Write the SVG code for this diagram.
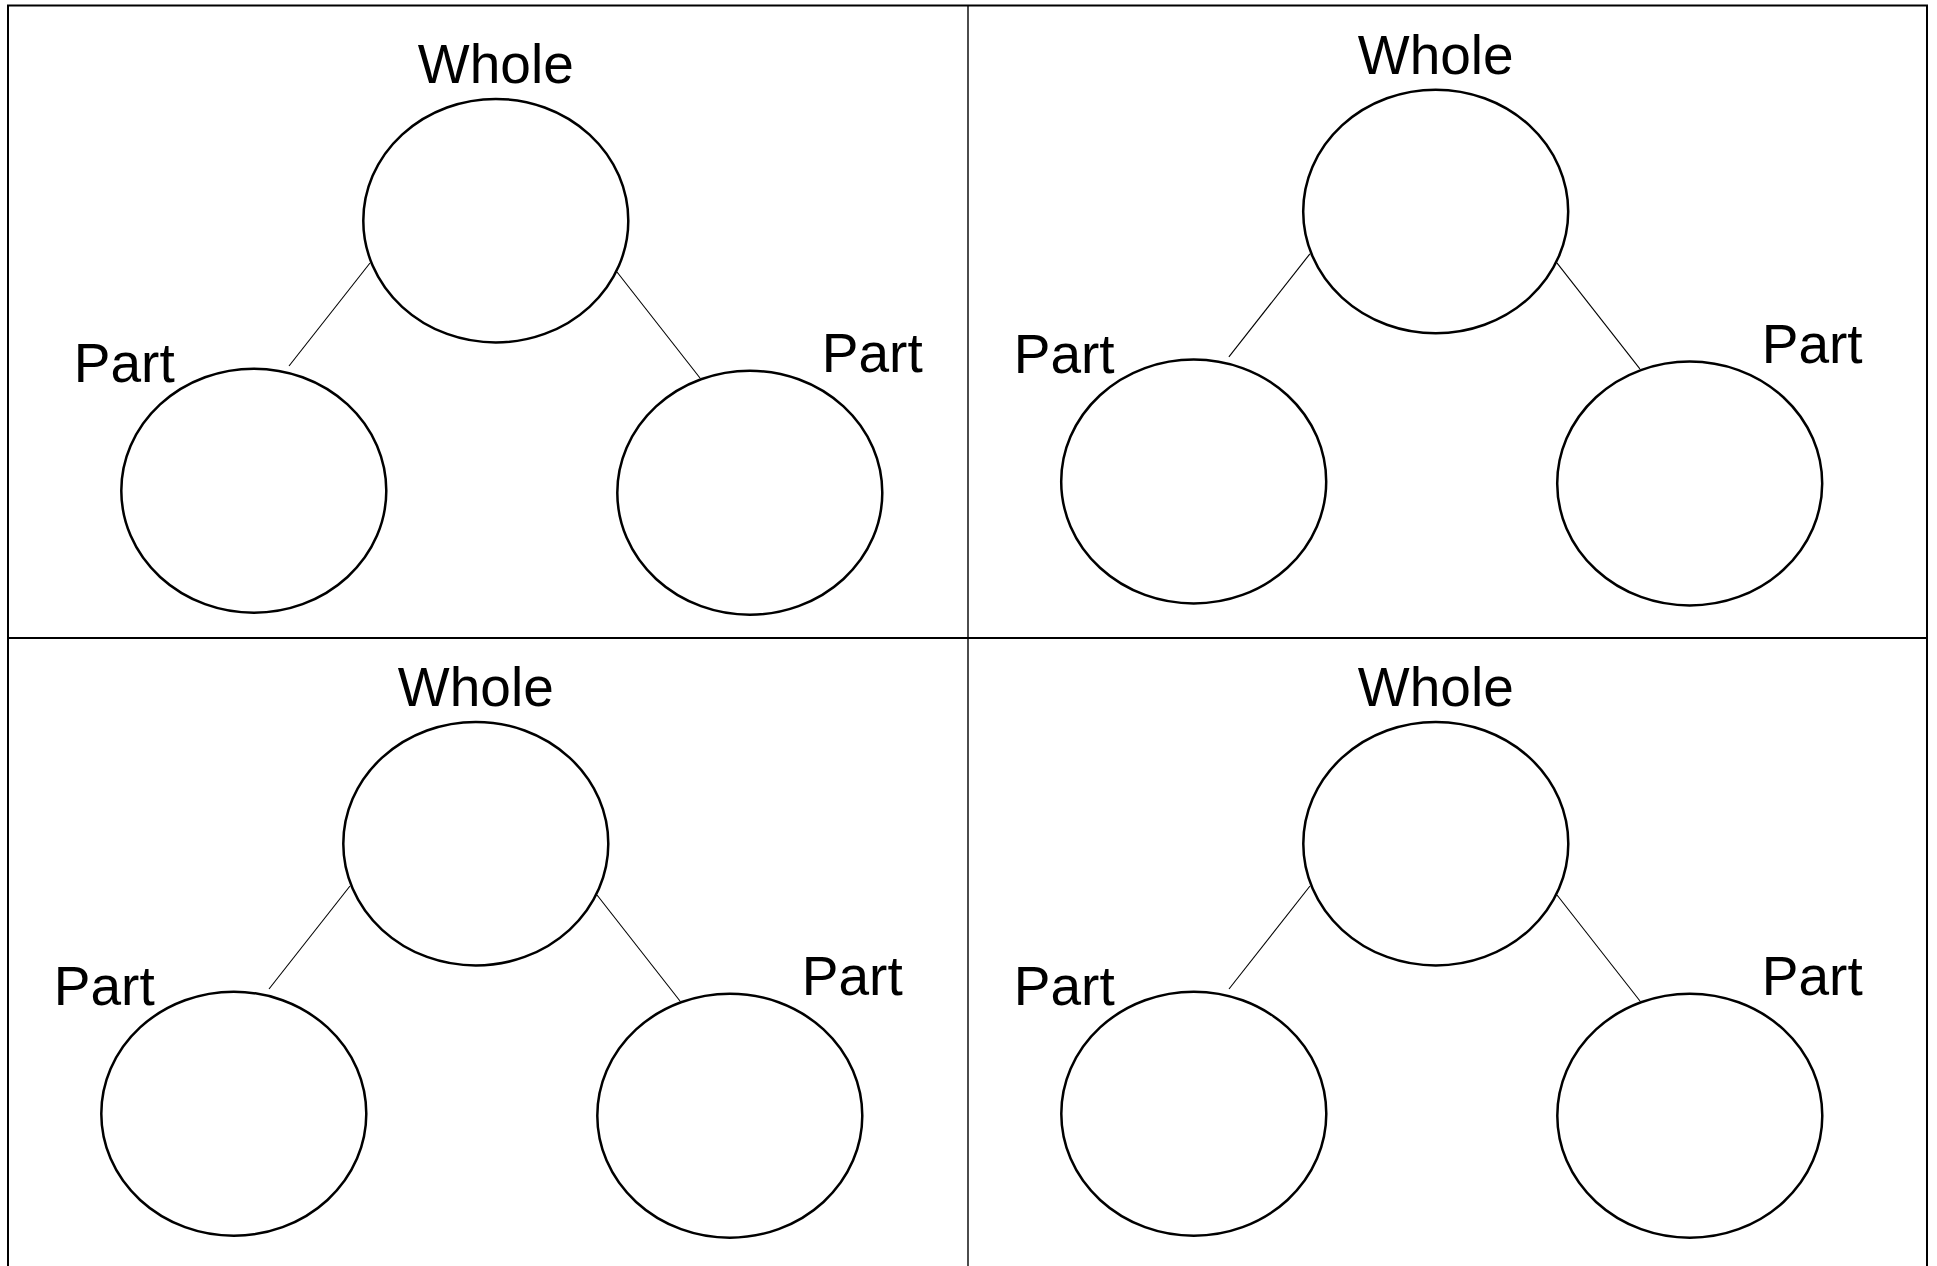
<svg xmlns="http://www.w3.org/2000/svg" width="1937" height="1266" viewBox="0 0 1937 1266">
<style>
.node{fill:#fff;stroke:#000;stroke-width:2.5}
.lbl{font-family:"Liberation Sans",Arial,sans-serif;font-size:55px;fill:#000}
.con{stroke:#000;stroke-width:1.1;fill:none}
.frame{stroke:#000;fill:none}
</style>
<rect width="1937" height="1266" fill="#fff"/>
<g id="frame">
<line class="frame" x1="7" y1="5.5" x2="1928" y2="5.5" stroke-width="2"/>
<line class="frame" x1="8" y1="5" x2="8" y2="1266" stroke-width="2"/>
<line class="frame" x1="1927" y1="5" x2="1927" y2="1266" stroke-width="2"/>
<line class="frame" x1="968" y1="5" x2="968" y2="1266" stroke-width="1.4"/>
<line class="frame" x1="8" y1="638" x2="1927" y2="638" stroke-width="2"/>
</g>
<g id="connectors">
<g transform="translate(495.8,220.7)"><line class="con" x1="-125.8" y1="42.3" x2="-206.8" y2="145.3"/><line class="con" x1="121.2" y1="51.3" x2="204.2" y2="157.3"/></g>
<g transform="translate(1435.7,211.5)"><line class="con" x1="-125.8" y1="42.3" x2="-206.8" y2="145.3"/><line class="con" x1="121.2" y1="51.3" x2="204.2" y2="157.3"/></g>
<g transform="translate(475.8,843.7)"><line class="con" x1="-125.8" y1="42.3" x2="-206.8" y2="145.3"/><line class="con" x1="121.2" y1="51.3" x2="204.2" y2="157.3"/></g>
<g transform="translate(1435.8,843.7)"><line class="con" x1="-125.8" y1="42.3" x2="-206.8" y2="145.3"/><line class="con" x1="121.2" y1="51.3" x2="204.2" y2="157.3"/></g>
</g>
<g id="tree-top-left" transform="translate(495.8,220.7)">
<g id="tl-whole"><ellipse class="node" cx="0" cy="0" rx="132.5" ry="121.8"/><text class="lbl" x="0" y="-138" text-anchor="middle">Whole</text></g>
<g id="tl-part-left"><ellipse class="node" cx="-242" cy="270" rx="132.5" ry="122"/><text class="lbl" x="-422" y="161">Part</text></g>
<g id="tl-part-right"><ellipse class="node" cx="254" cy="272" rx="132.5" ry="122"/><text class="lbl" x="326" y="151">Part</text></g>
</g>
<g id="tree-top-right" transform="translate(1435.7,211.5)">
<g id="tr-whole"><ellipse class="node" cx="0" cy="0" rx="132.5" ry="121.8"/><text class="lbl" x="0" y="-138" text-anchor="middle">Whole</text></g>
<g id="tr-part-left"><ellipse class="node" cx="-242" cy="270" rx="132.5" ry="122"/><text class="lbl" x="-422" y="161">Part</text></g>
<g id="tr-part-right"><ellipse class="node" cx="254" cy="272" rx="132.5" ry="122"/><text class="lbl" x="326" y="151">Part</text></g>
</g>
<g id="tree-bottom-left" transform="translate(475.8,843.7)">
<g id="bl-whole"><ellipse class="node" cx="0" cy="0" rx="132.5" ry="121.8"/><text class="lbl" x="0" y="-138" text-anchor="middle">Whole</text></g>
<g id="bl-part-left"><ellipse class="node" cx="-242" cy="270" rx="132.5" ry="122"/><text class="lbl" x="-422" y="161">Part</text></g>
<g id="bl-part-right"><ellipse class="node" cx="254" cy="272" rx="132.5" ry="122"/><text class="lbl" x="326" y="151">Part</text></g>
</g>
<g id="tree-bottom-right" transform="translate(1435.8,843.7)">
<g id="br-whole"><ellipse class="node" cx="0" cy="0" rx="132.5" ry="121.8"/><text class="lbl" x="0" y="-138" text-anchor="middle">Whole</text></g>
<g id="br-part-left"><ellipse class="node" cx="-242" cy="270" rx="132.5" ry="122"/><text class="lbl" x="-422" y="161">Part</text></g>
<g id="br-part-right"><ellipse class="node" cx="254" cy="272" rx="132.5" ry="122"/><text class="lbl" x="326" y="151">Part</text></g>
</g>
</svg>
